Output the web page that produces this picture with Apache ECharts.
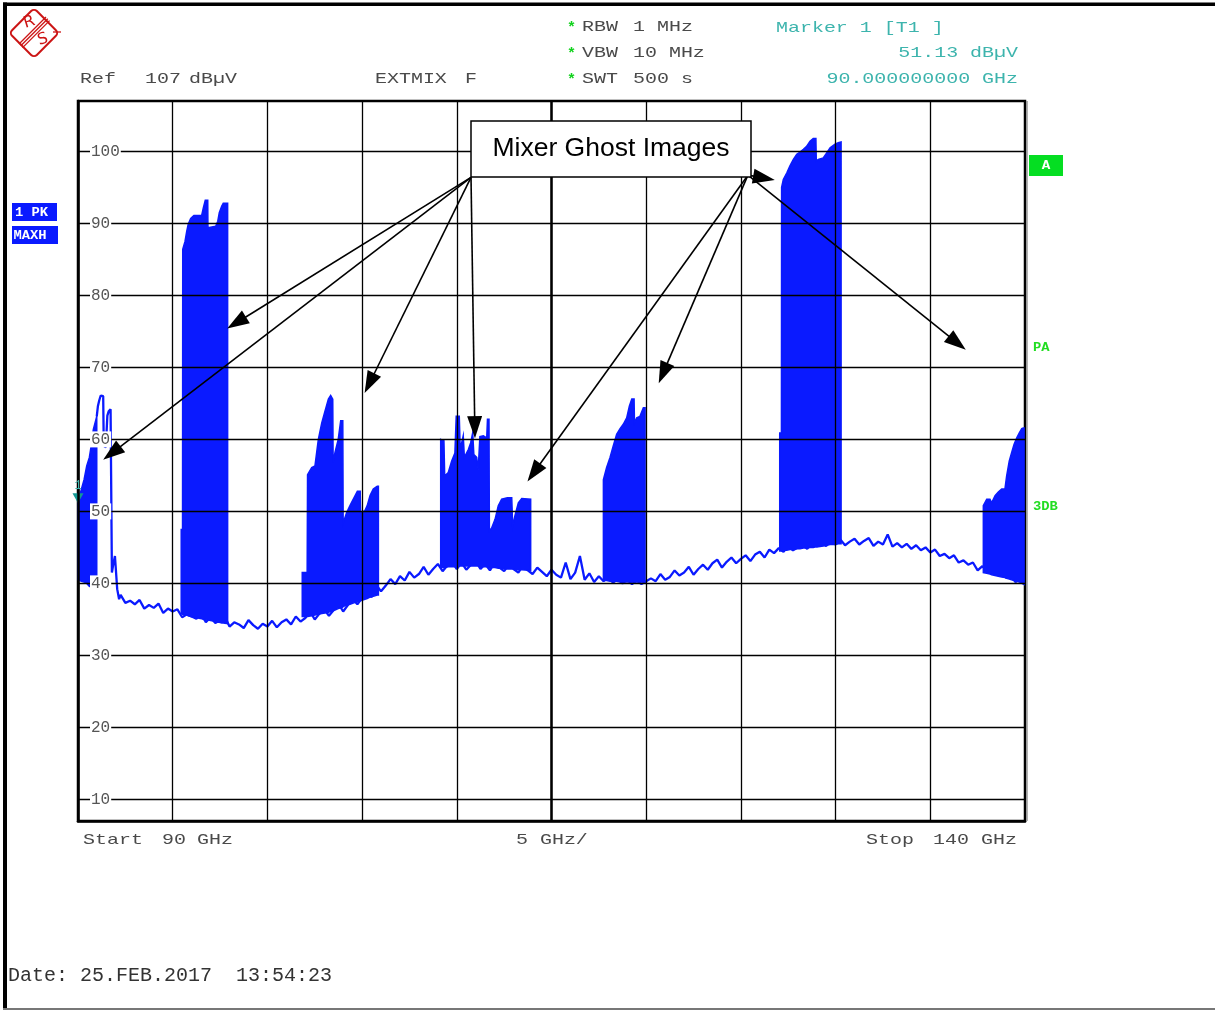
<!DOCTYPE html>
<html>
<head>
<meta charset="utf-8">
<script src="https://cdn.jsdelivr.net/npm/echarts@6/dist/echarts.min.js"></script>
<style>
html,body{margin:0;padding:0;background:#fff;}
#chart{width:1215px;height:1011px;}
</style>
</head>
<body>
<div id="chart"></div>
<script>
// ---------------- data ----------------
const freqMin = 90, freqMax = 140, freqStep = 5;          // GHz
const levelMin = 7, levelMax = 107;                         // dBµV (Ref 107)
const levelTicks = [10, 20, 30, 40, 50, 60, 70, 80, 90, 100];

// noise floor, sampled every 0.25 GHz starting at 92.25 GHz
const floorStart = 92.25, floorStep = 0.25;
const floorDb = [
  38.4, 37.3, 37.6, 37.1, 37.7, 36.5, 37.0, 36.6, 37.2, 35.9, 36.5, 36.1,
  36.4, 35.3, 35.7, 35.4, 35.1, 35.9, 34.6, 35.3, 34.5, 34.9, 35.4, 34.0, 34.6, 34.3, 33.8, 34.9, 34.2, 33.7, 34.4, 34.0,
  34.8, 33.9, 34.6, 35.0, 34.3, 35.4, 34.7, 35.2, 36.1, 35.0, 35.8, 36.4, 35.5, 36.3, 37.2, 36.1, 37.0, 37.8, 37.1, 38.0,
  38.6, 38.1, 39.8, 38.9, 39.7, 40.6, 39.9, 41.0, 40.4, 41.6, 40.8, 41.3, 42.3, 41.2, 42.0, 42.7, 41.7, 42.5, 43.0, 42.0,
  42.9, 41.9, 42.6, 43.1, 42.0, 42.7, 41.8, 42.9, 42.2, 41.7, 42.6, 42.0, 41.5, 42.5, 41.8, 41.3, 42.2, 41.6, 41.0, 41.9,
  41.2, 40.8, 42.9, 40.6, 41.5, 43.8, 40.5, 41.4, 40.2, 41.0, 40.3, 40.9, 40.1, 40.6, 40.0, 40.5, 39.9, 40.4, 39.9, 40.3,
  40.7, 40.3, 41.3, 40.5, 40.9, 41.8, 41.1, 41.5, 42.3, 41.2, 42.0, 42.6, 41.9, 42.8, 43.3, 42.2, 43.0, 43.6, 42.8, 43.4,
  43.9, 43.1, 44.0, 44.4, 43.6, 44.7, 44.2, 44.9, 44.4, 45.2, 44.6, 45.0, 45.4, 44.8, 45.6, 45.1, 45.7, 45.2, 45.9, 45.4,
  46.1, 45.3, 45.8, 46.2, 45.4, 45.9, 46.3, 45.2, 45.8, 45.4, 46.8, 45.1, 45.6, 45.0, 45.5, 44.8, 45.3, 44.6, 45.0, 44.3,
  44.7, 43.8, 44.1, 43.5, 43.9, 42.9, 43.2, 42.6, 42.9, 41.8, 42.4, 41.6, 41.9, 41.2, 41.4, 40.8, 41.1, 40.2, 40.7, 39.9
];

// trace segment between the first burst and the noise floor  [GHz, dBµV]
const earlyTrace = [
  [90.99, 63.2], [91.05, 64.6], [91.12, 65.4], [91.2, 66.1], [91.29, 66.3], [91.33, 66.0],
  [91.36, 59.1], [91.47, 58.9], [91.55, 63.3], [91.62, 63.9], [91.72, 64.2], [91.77, 64.0],
  [91.79, 41.5], [91.86, 42.6], [91.95, 43.8], [92.05, 44.0], [92.07, 39.2], [92.17, 37.8]
];

// bursts of max-hold spikes: [GHz, top dBµV, bottom dBµV]
const burst0 = [
  [90.0, 51.7, 40.5], [90.09, 52.2, 40.4], [90.18, 53.1, 40.3], [90.32, 54.4, 40.2], [90.46, 56.3, 40.0],
  [90.6, 57.5, 39.6], [90.72, 59.5, 39.5], [90.81, 61.4, 39.4], [90.9, 62.3, 39.4], [90.99, 63.2, 39.5]
];
const burstA = [
  [95.45, 47.5, 35.8], [95.52, 47.5, 35.8], [95.53, 86.4, 35.7], [95.65, 87.5, 35.6], [95.74, 88.9, 35.6],
  [95.82, 89.9, 35.5], [95.95, 90.7, 35.4], [96.12, 91.1, 35.3], [96.53, 91.1, 35.1], [96.62, 92.2, 35.0],
  [96.72, 93.2, 35.0], [96.85, 93.2, 34.9], [96.86, 89.4, 34.9], [97.27, 89.6, 34.7], [97.38, 90.3, 34.6],
  [97.46, 91.5, 34.6], [97.59, 92.4, 34.5], [97.67, 92.8, 34.5], [97.9, 92.8, 34.4]
];
const burstB = [
  [101.84, 41.5, 35.4], [102.1, 41.5, 35.4], [102.12, 55.1, 35.4], [102.34, 56.1, 35.5], [102.51, 56.3, 35.6],
  [102.69, 60.0, 35.7], [102.87, 62.3, 35.8], [103.04, 63.9, 35.9], [103.22, 65.6, 36.0], [103.34, 66.1, 36.1],
  [103.45, 65.6, 36.2], [103.47, 56.8, 36.2], [103.57, 58.2, 36.3], [103.74, 60.0, 36.5], [103.87, 62.6, 36.6],
  [103.98, 62.6, 36.7], [104.0, 48.4, 36.8], [104.18, 49.8, 37.0], [104.36, 50.8, 37.1], [104.57, 51.9, 37.3],
  [104.75, 52.8, 37.5], [104.9, 52.8, 37.6], [104.92, 49.8, 37.6], [105.15, 50.1, 37.8], [105.27, 50.8, 37.9],
  [105.42, 52.2, 38.1], [105.59, 53.1, 38.2], [105.8, 53.5, 38.4], [105.86, 53.5, 38.4]
];
const burstC = [
  [109.15, 60.0, 42.2], [109.32, 59.8, 42.2], [109.36, 54.9, 42.2], [109.55, 55.4, 42.3], [109.73, 57.0, 42.3],
  [109.9, 58.1, 42.3], [109.97, 63.2, 42.3], [110.13, 63.2, 42.4], [110.18, 58.6, 42.4], [110.34, 60.5, 42.4],
  [110.4, 57.5, 42.4], [110.61, 58.6, 42.4], [110.73, 59.5, 42.4], [110.84, 60.9, 42.4], [110.9, 57.9, 42.4],
  [111.05, 57.5, 42.4], [111.13, 55.8, 42.4], [111.22, 60.4, 42.3], [111.4, 60.5, 42.3], [111.58, 60.2, 42.3],
  [111.62, 62.8, 42.3], [111.7, 62.8, 42.3], [111.72, 47.3, 42.2], [111.84, 47.7, 42.2], [112.02, 48.9, 42.2],
  [112.19, 50.8, 42.1], [112.37, 51.7, 42.1], [112.67, 51.9, 42.0], [112.9, 51.9, 42.0], [112.95, 48.0, 42.0],
  [113.07, 49.4, 41.9], [113.25, 51.2, 41.9], [113.43, 51.8, 41.9], [113.9, 51.7, 41.8]
];
const burstD = [
  [117.74, 54.4, 40.4], [117.91, 56.1, 40.4], [118.09, 57.5, 40.3], [118.26, 59.1, 40.3], [118.44, 60.7, 40.3],
  [118.62, 61.5, 40.2], [118.79, 62.1, 40.2], [118.97, 63.0, 40.2], [119.11, 64.6, 40.2], [119.24, 65.6, 40.2],
  [119.36, 65.6, 40.2], [119.38, 62.3, 40.2], [119.5, 63.0, 40.2], [119.67, 63.2, 40.2], [119.85, 64.4, 40.2],
  [119.94, 64.4, 40.2]
];
const burstE = [
  [127.05, 60.9, 44.5], [127.14, 60.9, 44.5], [127.15, 95.0, 44.5], [127.24, 96.1, 44.6], [127.42, 97.0, 44.6],
  [127.59, 98.0, 44.7], [127.77, 98.9, 44.7], [127.95, 99.6, 44.8], [128.12, 99.9, 44.8], [128.3, 100.3, 44.9],
  [128.47, 100.7, 44.9], [128.65, 101.4, 45.0], [128.82, 101.8, 45.0], [128.96, 101.8, 45.1], [128.98, 98.7, 45.1],
  [129.09, 98.9, 45.1], [129.35, 99.1, 45.2], [129.53, 99.8, 45.3], [129.71, 100.5, 45.4], [129.97, 101.0, 45.4],
  [130.14, 101.2, 45.5], [130.29, 101.3, 45.5]
];
const burstF = [
  [137.8, 50.8, 41.5], [137.98, 51.7, 41.4], [138.15, 51.7, 41.3], [138.24, 51.2, 41.2], [138.42, 52.2, 41.1],
  [138.59, 52.7, 41.0], [138.77, 53.1, 40.9], [138.94, 53.1, 40.8], [139.03, 54.9, 40.7], [139.17, 57.0, 40.6],
  [139.29, 58.1, 40.5], [139.42, 59.3, 40.4], [139.56, 60.2, 40.3], [139.7, 60.9, 40.2], [139.83, 61.5, 40.0],
  [139.91, 61.6, 39.9], [140.0, 61.6, 39.8]
];
const bursts = [burst0, burstA, burstB, burstC, burstD, burstE, burstF];

// marker 1
const marker1 = [90.0, 51.13];

// annotation arrows "Mixer Ghost Images": [from, to] in [GHz, dBµV]
const arrowsFromLeft = [[98.37, 76.2], [91.79, 58.1], [105.39, 67.8], [110.95, 61.7]];
const arrowsFromRight = [[114.07, 55.4], [120.89, 69.2], [126.22, 96.3], [136.42, 73.4]];
const arrowOriginLeft = [110.75, 96.4];
const arrowOriginRight = [125.37, 96.7];

// ---------------- chart ----------------
const BLUE = '#0a1aff';
const GREY = '#4a4a4a';
const TEAL = '#3db4ad';
const GREEN = '#12d21e';
const RED = '#cc1515';
const MONO = '"Liberation Mono", "DejaVu Sans Mono", monospace';

const traceData = earlyTrace.concat(floorDb.map((v, i) => [floorStart + i * floorStep, v]));
const arrowData = arrowsFromLeft.map(p => ({coords: [arrowOriginLeft, p]}))
  .concat(arrowsFromRight.map(p => ({coords: [arrowOriginRight, p]})));

function txt(s, x, y, o) {
  o = o || {};
  return {
    type: 'text', x: x, y: y, z: 100,
    scaleX: o.scaleX == null ? 1.33 : o.scaleX,
    rotation: o.rotation || 0,
    style: {
      text: s,
      font: (o.style || 'normal') + ' ' + (o.weight || 'normal') + ' ' + (o.size || 15) + 'px ' + (o.family || MONO),
      fill: o.color || GREY,
      textAlign: o.align || 'left', align: o.align || 'left',
      textVerticalAlign: 'middle', verticalAlign: 'middle'
    }
  };
}

const chart = echarts.init(document.getElementById('chart'), null, {renderer: 'canvas', width: 1215, height: 1011});

const graphics = [
  // outer frame
  {type: 'rect', shape: {x: 3, y: 2.5, width: 1212, height: 3.5}, style: {fill: '#000'}, z: 100},
  {type: 'rect', shape: {x: 3, y: 2.5, width: 4, height: 1007}, style: {fill: '#000'}, z: 100},
  {type: 'line', shape: {x1: 3, y1: 1009, x2: 1215, y2: 1009}, style: {stroke: '#777', lineWidth: 2}, z: 100},
  {type: 'line', shape: {x1: 1027, y1: 101, x2: 1027, y2: 821}, style: {stroke: '#999', lineWidth: 1.5}, z: 100},
  // R&S logo
  {type: 'rect', x: 34, y: 33, rotation: Math.PI / 4, shape: {x: -17.5, y: -17.5, width: 35, height: 35, r: 4},
    style: {fill: '#fff', stroke: RED, lineWidth: 2}, z: 100},
  {type: 'line', shape: {x1: 46, y1: 17, x2: 19, y2: 44}, style: {stroke: RED, lineWidth: 1.3}, z: 101},
  {type: 'line', shape: {x1: 47.8, y1: 18.8, x2: 20.8, y2: 45.8}, style: {stroke: RED, lineWidth: 1.3}, z: 101},
  {type: 'line', shape: {x1: 49.6, y1: 20.6, x2: 22.6, y2: 47.6}, style: {stroke: RED, lineWidth: 1.3}, z: 101},
  {type: 'line', shape: {x1: 53, y1: 32, x2: 61, y2: 32}, style: {stroke: RED, lineWidth: 1.3}, z: 101},
  txt('R', 24, 24, {color: RED, size: 16, scaleX: 1, family: '"DejaVu Sans", sans-serif', rotation: 0.3}),
  txt('S', 38, 41, {color: RED, size: 16, scaleX: 1, family: '"DejaVu Sans", sans-serif', rotation: 0.3}),
  // header texts
  txt('*', 567, 28, {color: GREEN, weight: 'bold', scaleX: 1}),
  txt('*', 567, 54, {color: GREEN, weight: 'bold', scaleX: 1}),
  txt('*', 567, 80, {color: GREEN, weight: 'bold', scaleX: 1}),
  txt('RBW', 582, 27), txt('1 MHz', 633, 27),
  txt('VBW', 582, 53), txt('10 MHz', 633, 53),
  txt('SWT', 582, 79), txt('500 s', 633, 79),
  txt('Ref', 80, 79), txt('107', 145, 79), txt('dBµV', 189, 79),
  txt('EXTMIX', 375, 79), txt('F', 465, 79),
  txt('Marker 1 [T1 ]', 776, 28, {color: TEAL}),
  txt('51.13 dBµV', 1018, 53, {color: TEAL, align: 'right'}),
  txt('90.000000000 GHz', 1018, 79, {color: TEAL, align: 'right'}),
  // footer texts
  txt('Start', 83, 840), txt('90', 162, 840), txt('GHz', 197, 840),
  txt('5 GHz/', 516, 840),
  txt('Stop', 866, 840), txt('140', 933, 840), txt('GHz', 981, 840),
  txt('Date: 25.FEB.2017  13:54:23', 8, 976, {size: 20, scaleX: 1, color: '#333'}),
  // trace badges
  {type: 'rect', shape: {x: 12, y: 203, width: 45, height: 18}, style: {fill: BLUE}, z: 100},
  txt('1 PK', 15, 212.5, {color: '#fff', weight: 'bold', size: 12, scaleX: 1.15}),
  {type: 'rect', shape: {x: 12, y: 226, width: 46, height: 18}, style: {fill: BLUE}, z: 100},
  txt('MAXH', 13.5, 235.5, {color: '#fff', weight: 'bold', size: 12, scaleX: 1.15}),
  {type: 'rect', shape: {x: 1029, y: 155, width: 34, height: 21}, style: {fill: '#05de22'}, z: 100},
  txt('A', 1046, 166, {color: '#fff', weight: 'bold', size: 13, scaleX: 1.1, align: 'center'}),
  txt('PA', 1033, 348, {color: '#22dd22', weight: 'bold', size: 12, scaleX: 1.15}),
  txt('3DB', 1033, 507, {color: '#22dd22', weight: 'bold', size: 12, scaleX: 1.15}),
  // annotation box
  {type: 'rect', shape: {x: 471, y: 121, width: 280, height: 56}, style: {fill: '#fff', stroke: '#000', lineWidth: 1.5}, z: 110},
  {type: 'text', x: 611, y: 149, z: 111, style: {text: 'Mixer Ghost Images', font: '26.5px "Liberation Sans", Arial, sans-serif',
    fill: '#000', textAlign: 'center', align: 'center', textVerticalAlign: 'middle', verticalAlign: 'middle'}}
];

const option = {
  animation: false,
  backgroundColor: '#fff',
  grid: {left: 78, right: 190, top: 101, bottom: 190, show: true, borderColor: '#000', borderWidth: 2.5, backgroundColor: 'transparent'},
  xAxis: {
    type: 'value', min: freqMin, max: freqMax, interval: freqStep, z: 5,
    axisLine: {show: true, lineStyle: {color: '#000', width: 2.5}},
    axisTick: {show: false}, axisLabel: {show: false},
    splitLine: {show: true, lineStyle: {color: '#000', width: 1.3}}
  },
  yAxis: {
    type: 'value', min: levelMin, max: levelMax, z: 5,
    axisLine: {show: true, lineStyle: {color: '#000', width: 2.5}},
    axisTick: {show: false, customValues: levelTicks},
    axisLabel: {show: true, inside: true, customValues: levelTicks, margin: 12, color: '#555',
      fontFamily: MONO, fontSize: 16, backgroundColor: '#fff', padding: [0, 1]},
    splitLine: {show: true, lineStyle: {color: '#000', width: 1.3}}
  },
  series: [
    {
      type: 'line', name: 'trace', data: traceData, showSymbol: false, z: 3,
      lineStyle: {color: BLUE, width: 2.3}, itemStyle: {color: BLUE},
      markLine: {silent: true, symbol: ['none', 'none'], label: {show: false},
        lineStyle: {color: '#000', width: 2.5, type: 'solid'}, data: [{xAxis: 115}]},
      markPoint: {
        symbol: 'triangle', symbolRotate: 180, symbolSize: [11, 10], symbolOffset: [0, -5],
        itemStyle: {color: '#149a95'},
        label: {show: true, formatter: '1', position: 'top', distance: 1, color: TEAL, fontSize: 12, fontFamily: MONO},
        data: [{coord: marker1}]
      }
    },
    {
      type: 'custom', name: 'bursts', z: 4,
      data: bursts.map(b => [b[0][0], b[0][2]]),
      renderItem: function (params, api) {
        const b = bursts[params.dataIndex];
        const pts = [];
        for (let k = 0; k < b.length; k++) pts.push(api.coord([b[k][0], b[k][1]]));
        for (let k = b.length - 1; k >= 0; k--) pts.push(api.coord([b[k][0], b[k][2]]));
        return {type: 'polygon', shape: {points: pts}, style: {fill: BLUE, stroke: BLUE, lineWidth: 1.5}};
      }
    },
    {
      type: 'lines', name: 'arrows', coordinateSystem: 'cartesian2d', z: 6, silent: true,
      symbol: ['none', 'triangle'], symbolSize: [0, [15, 22]],
      lineStyle: {color: '#000', width: 1.6, opacity: 1, curveness: 0},
      itemStyle: {color: '#000'},
      data: arrowData
    }
  ],
  graphic: graphics
};
chart.setOption(option);
</script>
</body>
</html>
